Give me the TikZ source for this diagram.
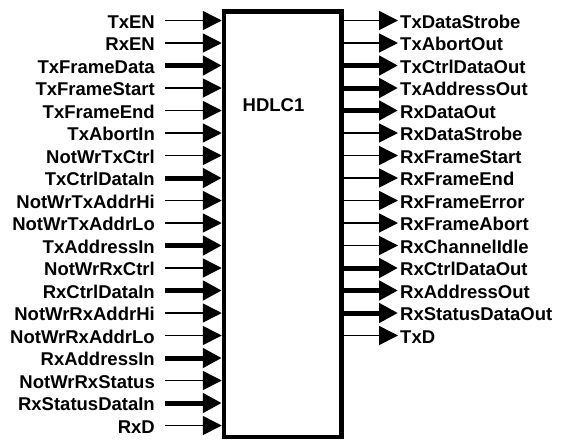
\documentclass[tikz,border=0pt]{standalone}
\usepackage{fontspec}
\setmainfont{Liberation Sans}
\usetikzlibrary{arrows.meta}
\begin{document}
\begin{tikzpicture}[x=1pt,y=-1pt,
  lbl/.style={inner sep=0pt, font=\fontsize{18.5}{20}\selectfont\bfseries},
  sig/.style={line width=1.6pt, -{Triangle[length=19pt,width=19pt]}},
  bus/.style={line width=5pt, -{Triangle[length=19pt,width=19pt]}},
  blk/.style={draw, line width=4.5pt, inner sep=0pt, minimum width=117.5pt, minimum height=425.5pt}]
\useasboundingbox (0,0) rectangle (567,440);
\node[blk] (box) at (282.75,224.25) {};
\node[lbl] (title) at (273.5,105) {HDLC1};
\foreach \t/\w [count=\i from 0] in {TxEN/sig, RxEN/sig, TxFrameData/bus, TxFrameStart/sig, TxFrameEnd/sig, TxAbortIn/sig, NotWrTxCtrl/sig, TxCtrlDataIn/bus, NotWrTxAddrHi/sig, NotWrTxAddrLo/sig, TxAddressIn/bus, NotWrRxCtrl/sig, RxCtrlDataIn/bus, NotWrRxAddrHi/sig, NotWrRxAddrLo/sig, RxAddressIn/bus, NotWrRxStatus/sig, RxStatusDataIn/bus, RxD/sig} {
  \pgfmathsetmacro\yy{20.5+22.5*\i}
  \node[lbl, anchor=base east] (L\i) at (155,{\yy+7.5}) {\t};
  \coordinate (l\i) at (165,\yy);
  \draw[\w] (l\i) -- (l\i -| box.west);
}
\foreach \t/\w [count=\i from 0] in {TxDataStrobe/sig, TxAbortOut/sig, TxCtrlDataOut/bus, TxAddressOut/bus, RxDataOut/bus, RxDataStrobe/sig, RxFrameStart/sig, RxFrameEnd/sig, RxFrameError/sig, RxFrameAbort/sig, RxChannelIdle/sig, RxCtrlDataOut/bus, RxAddressOut/bus, RxStatusDataOut/bus, TxD/sig} {
  \pgfmathsetmacro\yy{20.5+22.5*\i}
  \node[lbl, anchor=base west] (R\i) at (400,{\yy+7.5}) {\t};
  \coordinate (r\i) at (398,\yy);
  \draw[\w] (r\i -| box.east) -- (r\i);
}
\end{tikzpicture}
\end{document}
